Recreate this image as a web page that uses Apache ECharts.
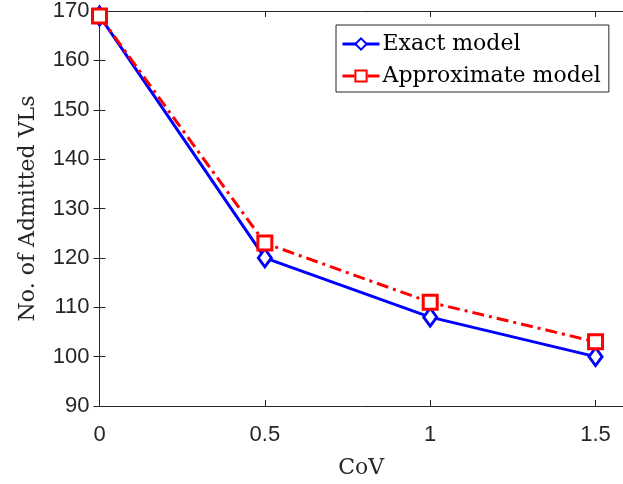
<!DOCTYPE html>
<html><head><meta charset="utf-8">
<script src="https://cdn.jsdelivr.net/npm/echarts@6/dist/echarts.min.js"></script>
<style>html,body{margin:0;padding:0;background:#fff}#c{width:623px;height:484px}</style>
</head><body><div id="c"></div>
<script>
const cov = [0, 0.5, 1, 1.5];
const exactModel = [169, 120, 108, 100];
const approxModel = [169, 123, 111, 103];
const xTicks = [0, 0.5, 1, 1.5];
const yTicks = [90, 100, 110, 120, 130, 140, 150, 160, 170];

const chart = echarts.init(document.getElementById('c'), null, {renderer: 'canvas'});
const axisCol = '#262626';
const tickFont = {fontFamily: 'Liberation Sans', fontSize: 22, color: '#262626'};
const xMax = 1.583;
chart.setOption({
  animation: false,
  grid: {left: 99.5, top: 9.5, right: -1, height: 397.5, containLabel: false},
  legend: {
    top: 25, left: 336, orient: 'vertical',
    width: 276, height: 69,
    padding: [8, 8, 5, 5],
    itemGap: 10,
    itemWidth: 37, itemHeight: 14,
    borderColor: '#262626', borderWidth: 1, backgroundColor: '#fff',
    lineStyle: {width: 3},
    textStyle: {fontFamily: 'DejaVu Serif', fontSize: 22, color: '#000', padding: [0, 0, 0, -2]},
    data: ['Exact model', 'Approximate model']
  },
  xAxis: [{
    type: 'value', min: 0, max: xMax, interval: 0.5,
    axisLine: {show: true, lineStyle: {color: axisCol, width: 1}},
    axisTick: {inside: true, length: 6, lineStyle: {color: axisCol}},
    splitLine: {show: false},
    axisLabel: Object.assign({margin: 18, showMaxLabel: false, formatter: v => xTicks.includes(v) ? String(v) : ''}, tickFont),
    name: 'CoV', nameLocation: 'middle', nameGap: 51,
    nameTextStyle: {fontFamily: 'DejaVu Serif', fontSize: 22, color: '#262626'}
  }, {
    type: 'value', position: 'top', min: 0, max: xMax, interval: 0.5,
    axisLine: {show: true, lineStyle: {color: axisCol, width: 1}},
    axisTick: {inside: true, length: 6, lineStyle: {color: axisCol}},
    axisLabel: {show: false}, splitLine: {show: false}
  }],
  yAxis: [{
    type: 'value', min: 90, max: 170, interval: 10,
    axisLine: {show: true, lineStyle: {color: axisCol, width: 1}},
    axisTick: {inside: true, length: 6, lineStyle: {color: axisCol}},
    splitLine: {show: false},
    axisLabel: Object.assign({margin: 10, formatter: v => yTicks.includes(v) ? String(v) : ''}, tickFont),
    name: 'No. of Admitted VLs', nameLocation: 'middle', nameGap: 60,
    nameTextStyle: {fontFamily: 'DejaVu Serif', fontSize: 22, color: '#262626'}
  }, {
    type: 'value', position: 'right', min: 90, max: 170, interval: 10,
    axisLine: {show: true, lineStyle: {color: axisCol, width: 1}},
    axisTick: {inside: true, length: 6, lineStyle: {color: axisCol}},
    axisLabel: {show: false}, splitLine: {show: false}
  }],
  series: [{
    name: 'Exact model', type: 'line',
    data: cov.map((x, i) => [x, exactModel[i]]),
    symbol: 'diamond', symbolSize: [13, 18],
    lineStyle: {color: '#0000ff', width: 3},
    itemStyle: {color: '#fff', borderColor: '#0000ff', borderWidth: 3},
    z: 2
  }, {
    name: 'Approximate model', type: 'line',
    data: cov.map((x, i) => [x, approxModel[i]]),
    symbol: 'rect', symbolSize: 14,
    lineStyle: {color: '#ff0000', width: 3, type: [12, 5, 3, 5]},
    itemStyle: {color: '#fff', borderColor: '#ff0000', borderWidth: 3},
    z: 3
  }]
});
</script></body></html>
